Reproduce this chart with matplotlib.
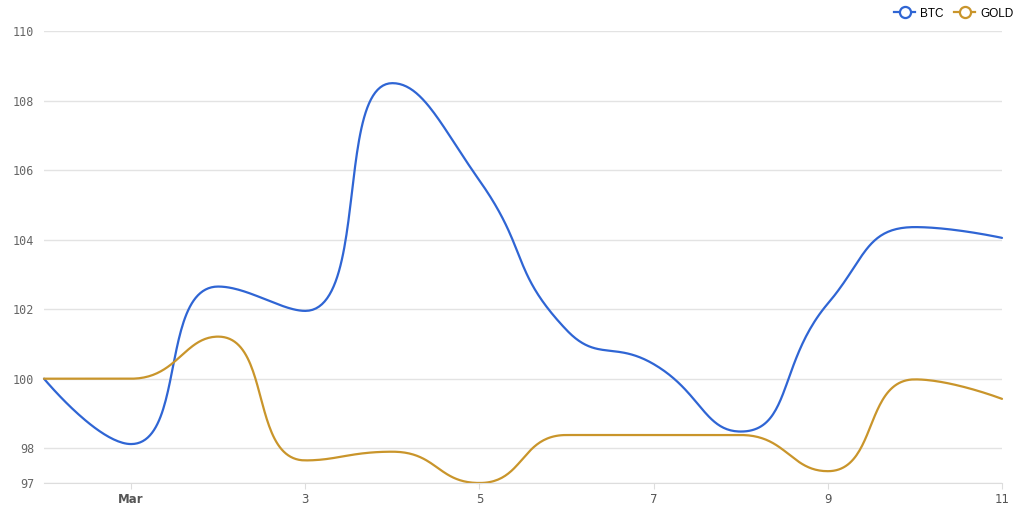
import matplotlib.pyplot as plt
import numpy as np

# daily values, Feb 28 .. Mar 11
days = np.arange(12)
tick_pos = [1, 3, 5, 7, 9, 11]
tick_labels = ["Mar", "3", "5", "7", "9", "11"]

btc = [100.0, 98.12, 102.65, 101.95, 108.5, 105.7, 101.4, 100.42, 98.48, 102.16, 104.36, 104.05]
gold = [100.0, 100.0, 101.21, 97.65, 97.9, 97.0, 98.38, 98.38, 98.38, 97.34, 99.98, 99.42]

y_ticks = [97, 98, 100, 102, 104, 106, 108, 110]


def smooth_line(ax, x, y, smooth=0.5, n=50):
    # bezier smoothing done in pixel space, control points clamped between neighbours
    trans = ax.transData
    P = trans.transform(np.column_stack([x, y]))
    N = len(P)
    cp0 = P[0]
    out = [P[:1]]
    t = np.linspace(0, 1, n)[1:, None]
    for i in range(1, N):
        p, prev = P[i], P[i - 1]
        if i == N - 1:
            cp1 = p
            nxt_cp0 = None
        else:
            nxt = P[i + 1]
            v = nxt - prev
            l0 = np.hypot(*(p - prev))
            l1 = np.hypot(*(nxt - p))
            r = l1 / (l0 + l1)
            nxt_cp0 = p + v * smooth * r
            nxt_cp0 = np.minimum(nxt_cp0, np.maximum(nxt, p))
            nxt_cp0 = np.maximum(nxt_cp0, np.minimum(nxt, p))
            v = nxt_cp0 - p
            cp1 = p - v * l0 / l1
            cp1 = np.minimum(cp1, np.maximum(prev, p))
            cp1 = np.maximum(cp1, np.minimum(prev, p))
            v = p - cp1
            nxt_cp0 = p + v * l1 / l0
        seg = ((1 - t) ** 3) * prev + 3 * ((1 - t) ** 2) * t * cp0 + 3 * (1 - t) * t ** 2 * cp1 + t ** 3 * p
        out.append(seg)
        cp0 = nxt_cp0
    pts = trans.inverted().transform(np.vstack(out))
    return pts[:, 0], pts[:, 1]


fig = plt.figure(figsize=(10.24, 5.08), dpi=100)
ax = fig.add_axes([44 / 1024, 25 / 508, 958 / 1024, 452 / 508])
ax.set_xlim(0, 11)
ax.set_ylim(97, 110)

blue = "#2f65d4"
gold_c = "#c9952b"

bx, by = smooth_line(ax, days, btc)
gx, gy = smooth_line(ax, days, gold)
ax.plot(bx, by, color=blue, lw=1.6, solid_capstyle="round", clip_on=False)
ax.plot(gx, gy, color=gold_c, lw=1.6, solid_capstyle="round", clip_on=False)

ax.set_yticks(y_ticks)
ax.set_yticklabels([str(v) for v in y_ticks], family="DejaVu Sans Mono", fontsize=8.5, color="#666666")
ax.set_xticks(tick_pos)
ax.set_xticklabels(tick_labels, family="DejaVu Sans", fontsize=8.5, color="#555555")
ax.get_xticklabels()[0].set_fontweight("bold")
ax.tick_params(axis="y", length=0, pad=7)
ax.tick_params(axis="x", length=4, color="#dddddd", pad=3)

ax.grid(axis="y", color="#e3e3e3", lw=1)
ax.set_axisbelow(True)
for side in ["top", "right", "left"]:
    ax.spines[side].set_visible(False)
ax.spines["bottom"].set_color("#dddddd")

# legend handles with hollow circles
h1, = ax.plot([], [], color=blue, lw=1.6, marker="o", markersize=8, markerfacecolor="white", markeredgewidth=1.6)
h2, = ax.plot([], [], color=gold_c, lw=1.6, marker="o", markersize=8, markerfacecolor="white", markeredgewidth=1.6)
fig.legend([h1, h2], ["BTC", "GOLD"], loc="upper right", bbox_to_anchor=(1.0, 1.006),
           ncol=2, frameon=False, handlelength=1.8, columnspacing=0.9, handletextpad=0.4,
           prop={"family": "Liberation Sans", "size": 8.5})

fig.savefig("out.png", dpi=100)
